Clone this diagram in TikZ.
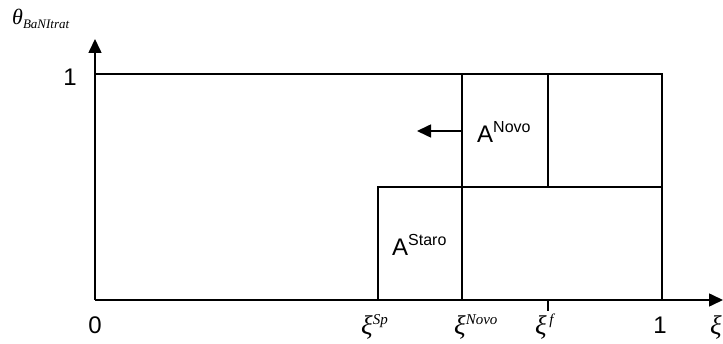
\documentclass[tikz,border=0pt]{standalone}
\usepackage{fontspec}
\setmainfont{Liberation Sans}
\newfontfamily\serif{Liberation Serif}
\usetikzlibrary{arrows.meta}
\begin{document}
\begin{tikzpicture}[x=1pt,y=-1pt,
  ln/.style={line width=1.6pt},
  thin/.style={line width=1.1pt},
  ax/.style={line width=1.6pt,-{Triangle[length=14pt,width=13pt]}},
  lbl/.style={font=\fontsize{24}{27}\selectfont,inner sep=0pt},
  gr/.style={font=\serif\itshape\fontsize{27}{30}\selectfont,inner sep=0pt}]
\useasboundingbox (0,0) rectangle (723,344);
% axes
\coordinate (O) at (95,300);
\coordinate (Ytip) at (95,39);
\coordinate (Xtip) at (723,300);
\draw[ax] (O) -- (Ytip);
\draw[ax] (O) -- (Xtip);
% rectangles
\coordinate (TL) at (95,74);
\coordinate (TR) at (662,74);
\coordinate (BR) at (662,300);
\coordinate (NT) at (462,74);
\coordinate (NB) at (462,300);
\coordinate (FT) at (548,74);
\coordinate (FM) at (548,187);
\coordinate (SM) at (378,187);
\coordinate (SB) at (378,300);
\coordinate (RM) at (662,187);
\draw[ln] (TL) -- (TR) -- (BR);
\draw[ln] (NT) -- (NB);
\draw[thin] (FT) -- (FM);
\draw[ln] (SB) -- (SM) -- (RM);
% tick
\coordinate (Ft1) at (548,300);
\coordinate (Ft2) at (548,311);
\draw[thin] (Ft1) -- (Ft2);
% arrow
\coordinate (Ast) at (462,131);
\coordinate (Aen) at (417,131);
\draw[line width=1.6pt,-{Triangle[length=14pt,width=13pt]}] (Ast) -- (Aen);
% labels
\node[lbl] (one1) at (70,77) {1};
\node[lbl] (zero) at (95,325) {0};
\node[lbl] (one2) at (660,325) {1};
\node[anchor=base west,inner sep=0pt] (theta) at (12,25) {\serif\itshape\fontsize{22}{25}\selectfont θ\raisebox{-4pt}{\fontsize{13}{14}\selectfont BaNItrat}};
\node[gr,anchor=base west] (xsp) at (361,335) {ξ\raisebox{10pt}{\fontsize{15}{17}\selectfont Sp}};
\node[gr,anchor=base west] (xnovo) at (454,335) {ξ\raisebox{10pt}{\fontsize{15}{17}\selectfont Novo}};
\node[gr,anchor=base west] (xf) at (535,335) {ξ\raisebox{10pt}{\fontsize{15}{17}\selectfont\,f}};
\node[gr,anchor=base west] (xi) at (710,335) {ξ};
\node[lbl,anchor=base west] (anovo) at (477,143) {A\raisebox{10pt}{\fontsize{16}{18}\selectfont Novo}};
\node[lbl,anchor=base west] (astaro) at (392,256) {A\raisebox{10pt}{\fontsize{16}{18}\selectfont Staro}};
\end{tikzpicture}
\end{document}
